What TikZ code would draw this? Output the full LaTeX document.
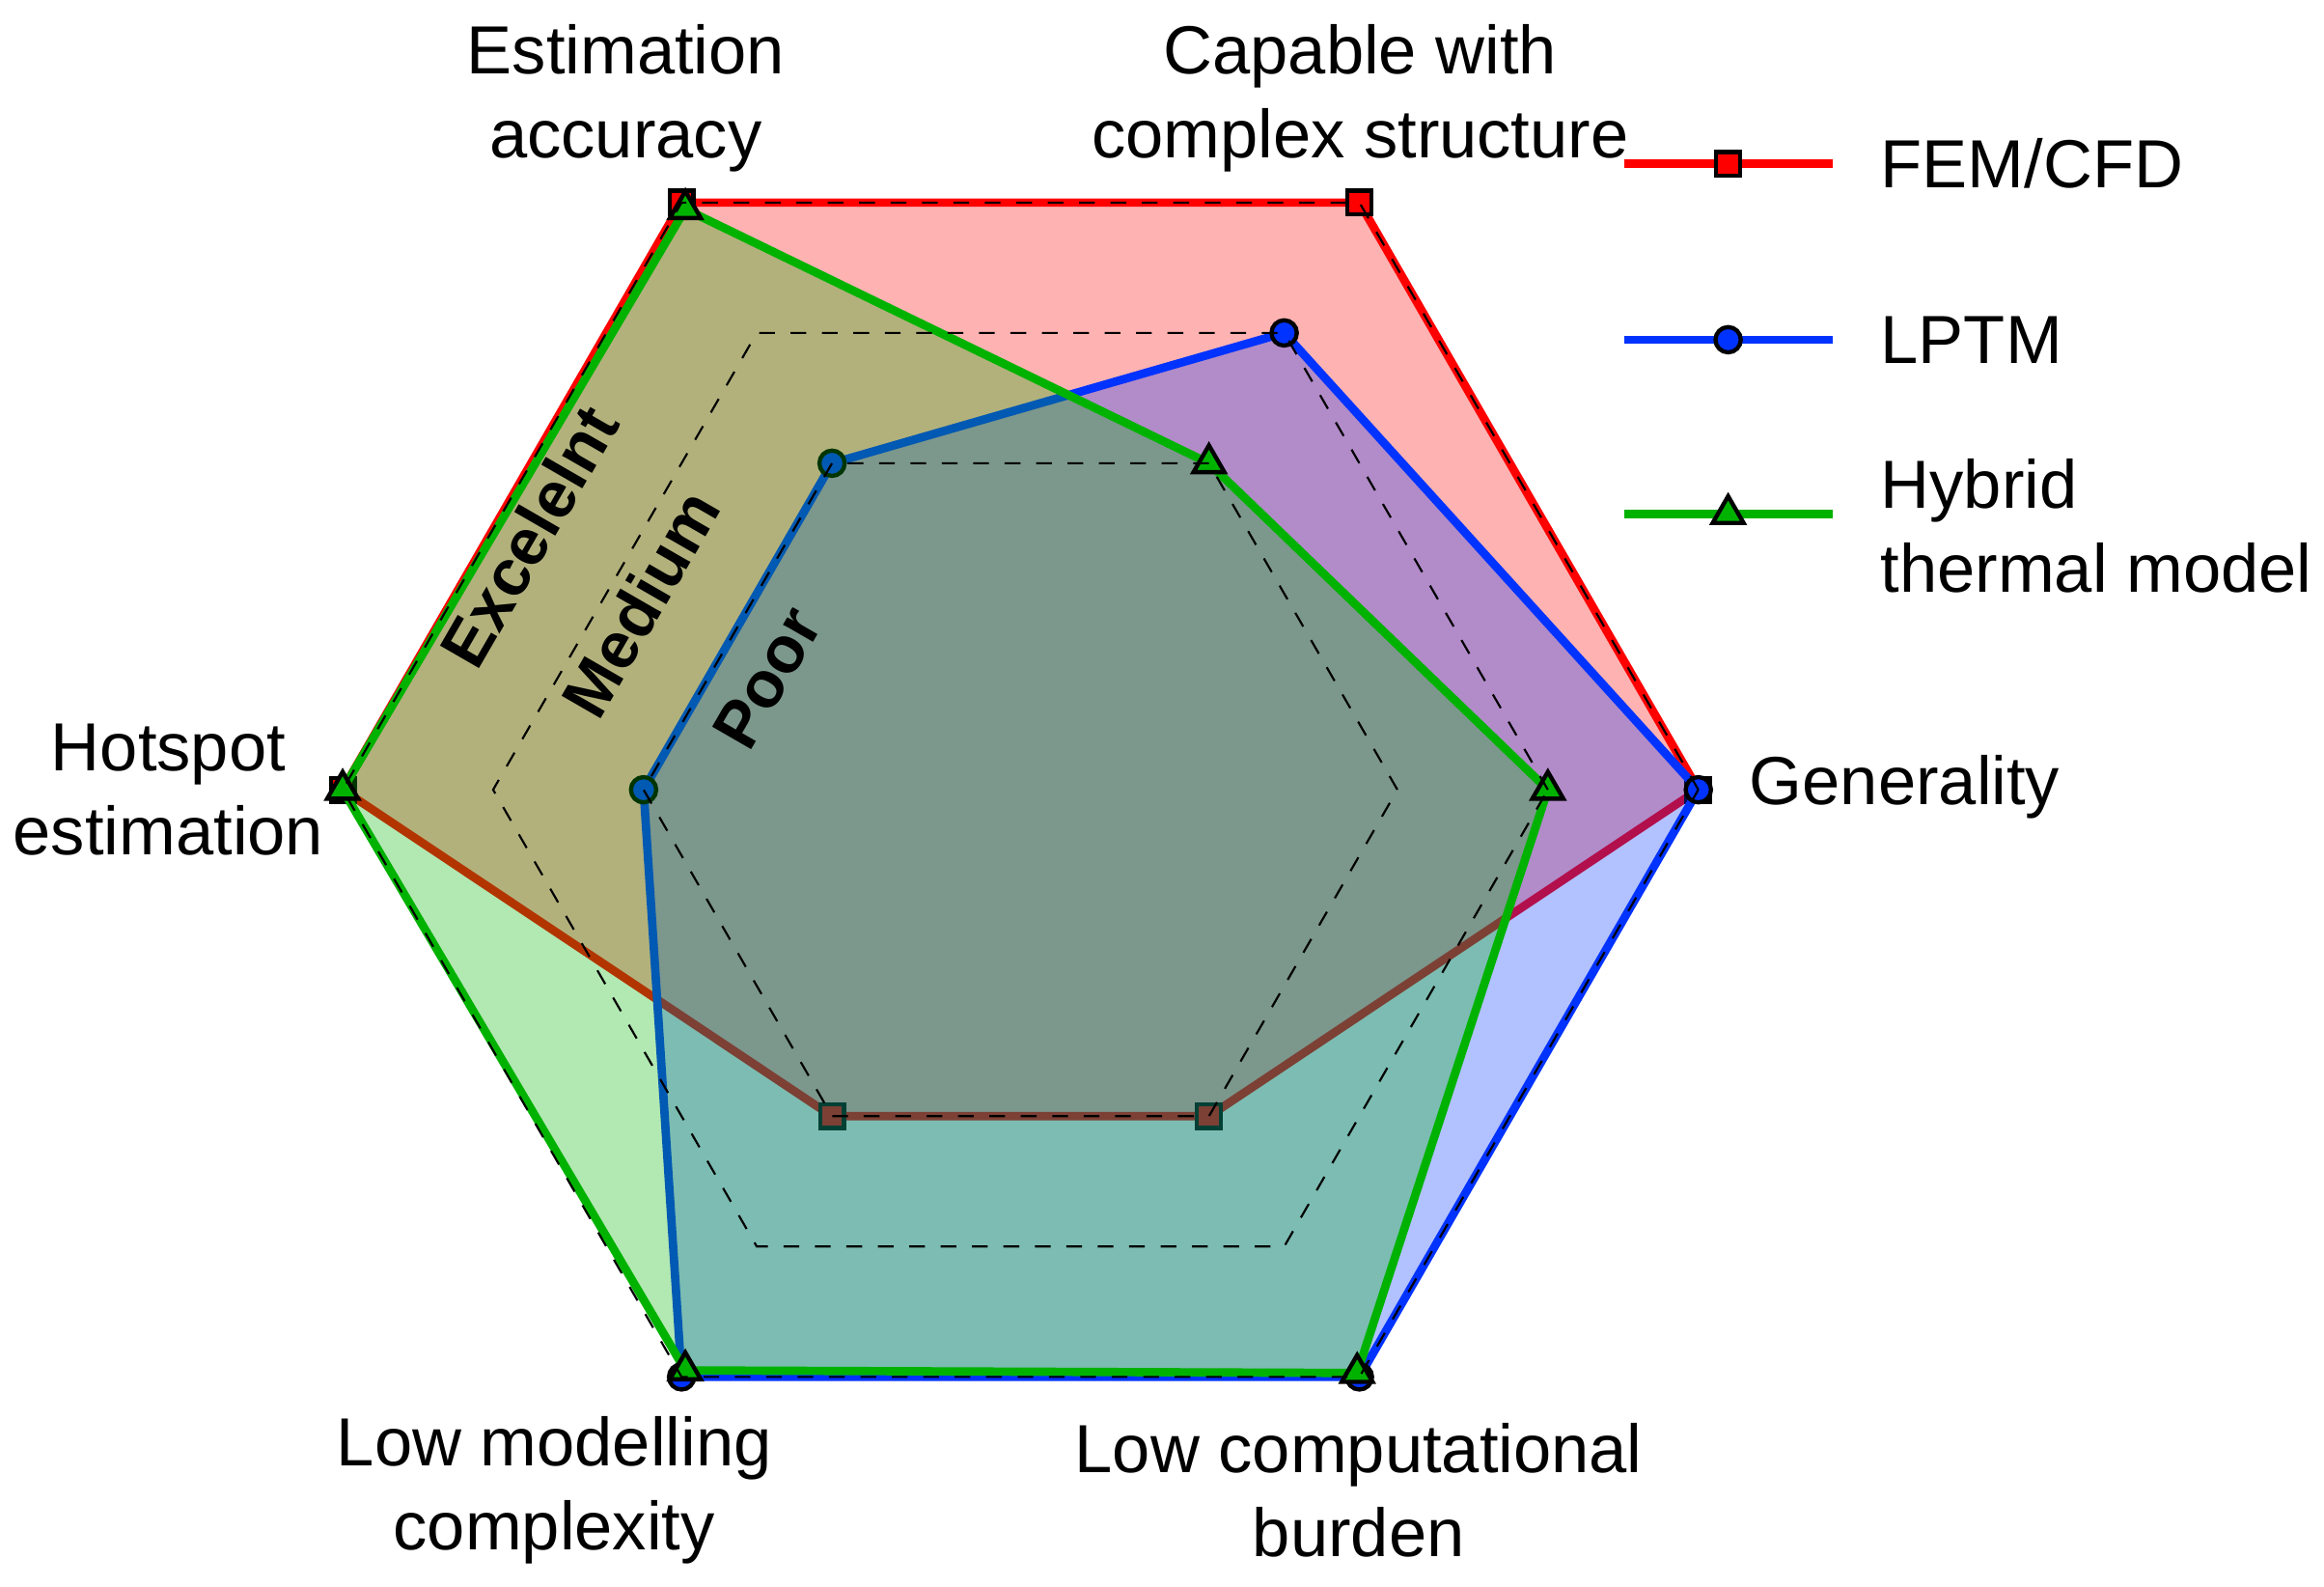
\documentclass[tikz,border=0pt]{standalone}
\usepackage{fontspec}
\setmainfont{Liberation Sans}
\newcommand\lev[1]{1.52+1.01*#1}
\tikzset{
  lbl/.style={font=\fontsize{13}{16}\selectfont,align=center},
  lvl/.style={font=\fontsize{12.5}{15}\selectfont\bfseries,rotate=60},
  sq/.style={draw=black,fill=red,minimum size=.16cm,inner sep=0pt,thick},
  ci/.style={draw=black,fill=blue!80!cyan,circle,minimum size=.17cm,inner sep=0pt,thick},
  tri/.style={draw=black,fill=green!70!black,regular polygon,regular polygon sides=3,minimum size=.24cm,inner sep=0pt,thick},
}
\usetikzlibrary{shapes.geometric}
\begin{document}
\begin{tikzpicture}
\useasboundingbox (0,0) rectangle (15.6,10.65);
\begin{scope}[shift={(6.85,5.35)}]
  % series points
  \coordinate (F1) at (120:{\lev{3}}); \coordinate (F2) at (60:{\lev{3}}); \coordinate (F3) at (0:{\lev{3}});
  \coordinate (F4) at (300:{\lev{1}}); \coordinate (F5) at (240:{\lev{1}}); \coordinate (F6) at (180:{\lev{3}});
  \coordinate (L1) at (120:{\lev{1}}); \coordinate (L2) at (60:{\lev{2}}); \coordinate (L3) at (0:{\lev{3}});
  \coordinate (L4) at (300:{\lev{3}}); \coordinate (L5) at (240:{\lev{3}}); \coordinate (L6) at (180:{\lev{1}});
  \coordinate (H1) at (120:{\lev{2.95}}); \coordinate (H2) at (60:{\lev{1}}); \coordinate (H3) at (0:{\lev{2}});
  \coordinate (H4) at (300:{\lev{2.97}}); \coordinate (H5) at (240:{\lev{2.95}}); \coordinate (H6) at (180:{\lev{3}});
  \fill[red,opacity=.3] (F1)--(F2)--(F3)--(F4)--(F5)--(F6)--cycle;
  \draw[red,line width=1.6pt,line join=round] (F1)--(F2)--(F3)--(F4)--(F5)--(F6)--cycle;
  \foreach \i in {1,...,6} \node[sq] at (F\i) {};
  \fill[blue!80!cyan,opacity=.3] (L1)--(L2)--(L3)--(L4)--(L5)--(L6)--cycle;
  \draw[blue!80!cyan,line width=1.6pt,line join=round] (L1)--(L2)--(L3)--(L4)--(L5)--(L6)--cycle;
  \foreach \i in {1,...,6} \node[ci] at (L\i) {};
  \fill[green!70!black,opacity=.3] (H1)--(H2)--(H3)--(H4)--(H5)--(H6)--cycle;
  \draw[green!70!black,line width=1.6pt,line join=round] (H1)--(H2)--(H3)--(H4)--(H5)--(H6)--cycle;
  \foreach \i in {1,...,6} \node[tri] at (H\i) {};
  % grid levels
  \foreach \l in {1,2,3}
    \draw[dashed,thin] (0:{\lev{\l}}) -- (60:{\lev{\l}}) -- (120:{\lev{\l}}) -- (180:{\lev{\l}}) -- (240:{\lev{\l}}) -- (300:{\lev{\l}}) -- cycle;
\end{scope}
% axis labels
\node[lbl] (acc) at (4.2,9.99) {Estimation\\accuracy};
\node[lbl] (cpx) at (9.13,9.99) {Capable with\\complex structure};
\node[lbl,anchor=west] (gen) at (11.62,5.37) {Generality};
\node[lbl] (hot) at (1.13,5.35) {Hotspot\\estimation};
\node[lbl] (cmp) at (9.12,0.65) {Low computational\\burden};
\node[lbl] (mod) at (3.72,0.65) {Low modelling\\complexity};
% level labels
\node[lvl] (exc) at (3.55,7.05) {Excelelnt};
\node[lvl] (med) at (4.30,6.60) {Medium};
\node[lvl] (poo) at (5.15,6.10) {Poor};
% legend
\coordinate (a1) at (10.9,9.55); \coordinate (b1) at (12.3,9.55);
\coordinate (a2) at (10.9,8.37); \coordinate (b2) at (12.3,8.37);
\coordinate (a3) at (10.9,7.20); \coordinate (b3) at (12.3,7.20);
\draw[red,line width=1.6pt] (a1) -- node[sq]{} (b1);
\draw[blue!80!cyan,line width=1.6pt] (a2) -- node[ci]{} (b2);
\draw[green!70!black,line width=1.6pt] (a3) -- node[tri]{} (b3);
\node[lbl,anchor=west] (lf) at (12.5,9.55) {FEM/CFD};
\node[lbl,anchor=west] (ll) at (12.5,8.37) {LPTM};
\node[lbl,anchor=west,align=left] (lh) at (12.5,7.12) {Hybrid\\thermal model};
\end{tikzpicture}
\end{document}
